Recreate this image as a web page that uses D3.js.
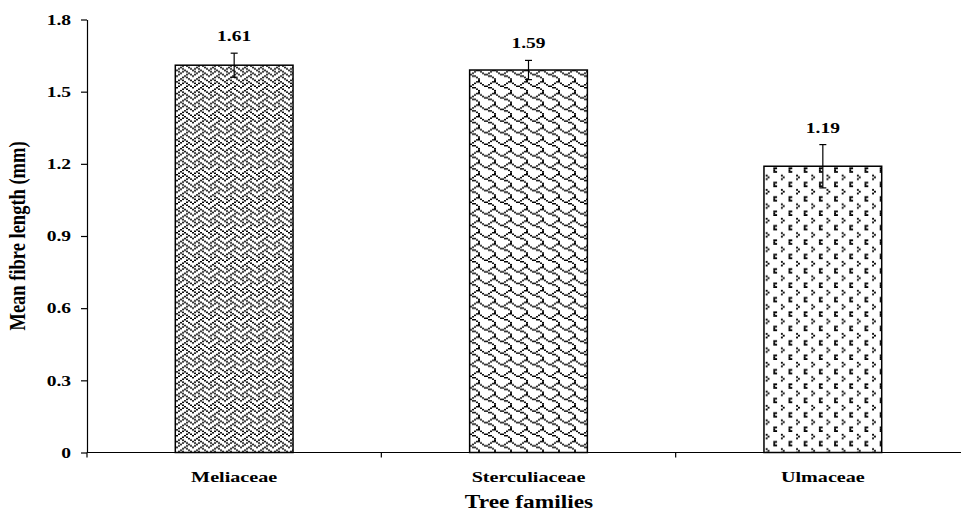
<!DOCTYPE html>
<html lang="en">
<head>
    <meta charset="UTF-8">
    <title>Mean fibre length</title>
    <style>
        body { margin: 0; background: #fff; }
        text { font-family: "Liberation Serif", "Times New Roman", serif; font-weight: bold; fill: #000; }
    </style>
</head>
<body>
<script src="https://cdn.jsdelivr.net/npm/d3@7/dist/d3.min.js"></script>
<script>
    var families = ['Meliaceae', 'Sterculiaceae', 'Ulmaceae'];
    var meanLength = [1.61, 1.59, 1.19];
    var errLength = [0.05, 0.04, 0.09];
    var yTicks = [0, 0.3, 0.6, 0.9, 1.2, 1.5, 1.8];

    var W = 961, H = 514;
    var stretch = 1.3;   // the picture is wider than tall, text too

    var svg = d3.select('body').append('svg')
            .attr('width', W)
            .attr('height', H);

    // 8x8 hatch bitmaps (weave, shingle, divot) and their pixel scale
    var hatches = [
        {rows: [0x88, 0x54, 0x22, 0x45, 0x88, 0x14, 0x22, 0x51], kx: 2, ky: 1.45},
        {rows: [0x03, 0x84, 0x48, 0x30, 0x0C, 0x02, 0x01, 0x01], kx: 2, ky: 1.45},
        {rows: [0x00, 0x10, 0x08, 0x10, 0x00, 0x81, 0x01, 0x81], kx: 1.9, ky: 1.8}
    ];
    var defs = svg.append('defs');
    hatches.forEach(function (h, p) {
        var pat = defs.append('pattern')
                .attr('id', 'hatch' + p)
                .attr('patternUnits', 'userSpaceOnUse')
                .attr('width', 8 * h.kx)
                .attr('height', 8 * h.ky);
        pat.append('rect').attr('width', 8 * h.kx).attr('height', 8 * h.ky).attr('fill', '#fff');
        h.rows.forEach(function (bits, r) {
            for (var c = 0; c < 8; c++) {
                if (bits & (0x80 >> c)) {
                    pat.append('rect')
                            .attr('x', c * h.kx).attr('y', r * h.ky)
                            .attr('width', h.kx).attr('height', h.ky)
                            .attr('fill', '#000');
                }
            }
        });
    });

    var x = d3.scaleBand()
            .domain(families)
            .range([87, 970])
            .paddingInner(0.6)
            .paddingOuter(0.3);
    var y = d3.scaleLinear()
            .domain([0, 1.8])
            .range([452.5, 19.5]);

    var data = families.map(function (f, i) {
        return {name: f, value: meanLength[i], err: errLength[i], idx: i};
    });

    // bars
    svg.selectAll('rect.bar')
            .data(data)
            .enter()
            .append('rect')
            .attr('class', 'bar')
            .attr('x', function (d) { return x(d.name); })
            .attr('y', function (d) { return y(d.value); })
            .attr('width', x.bandwidth())
            .attr('height', function (d) { return y(0) - y(d.value); })
            .attr('fill', function (d) { return 'url(#hatch' + d.idx + ')'; })
            .attr('stroke', '#000')
            .attr('stroke-width', 1.5);

    // error bars
    var eb = svg.selectAll('g.err')
            .data(data)
            .enter()
            .append('g')
            .attr('class', 'err')
            .attr('stroke', '#000')
            .attr('stroke-width', 1.2);
    var cx = function (d) { return x(d.name) + x.bandwidth() / 2; };
    eb.append('line')
            .attr('x1', cx).attr('x2', cx)
            .attr('y1', function (d) { return y(d.value + d.err); })
            .attr('y2', function (d) { return y(d.value - d.err); });
    [1, -1].forEach(function (s) {
        eb.append('line')
                .attr('x1', function (d) { return cx(d) - 3.5; })
                .attr('x2', function (d) { return cx(d) + 3.5; })
                .attr('y1', function (d) { return y(d.value + s * d.err); })
                .attr('y2', function (d) { return y(d.value + s * d.err); });
    });

    // value labels
    svg.selectAll('text.val')
            .data(data)
            .enter()
            .append('text')
            .attr('class', 'val')
            .attr('transform', function (d) {
                return 'translate(' + cx(d) + ',' + (y(d.value + d.err) - 12) + ') scale(' + stretch + ',1)';
            })
            .attr('text-anchor', 'middle')
            .style('font-size', '15px')
            .text(function (d) { return d.value.toFixed(2); });

    // y axis
    var yAxis = svg.append('g')
            .attr('transform', 'translate(87,0)')
            .call(d3.axisLeft(y).tickValues(yTicks).tickSize(6).tickSizeOuter(0)
                    .tickFormat(function (d) { return d === 0 ? '0' : d3.format('.1f')(d); }));
    yAxis.selectAll('text')
            .attr('x', -16 / stretch)
            .attr('transform', 'scale(' + stretch + ',1)')
            .style('font-size', '15px')
            .style('font-family', '"Liberation Serif", "Times New Roman", serif');
    yAxis.selectAll('line, path').attr('stroke', '#000').attr('stroke-width', 1.2);

    // x axis line with ticks between categories
    svg.append('line')
            .attr('x1', 87).attr('x2', W)
            .attr('y1', y(0)).attr('y2', y(0))
            .attr('stroke', '#000').attr('stroke-width', 1.2);
    svg.selectAll('line.xtick')
            .data(families)
            .enter()
            .append('line')
            .attr('class', 'xtick')
            .attr('x1', function (d) { return x(d) - x.step() * 0.3; })
            .attr('x2', function (d) { return x(d) - x.step() * 0.3; })
            .attr('y1', y(0)).attr('y2', y(0) + 5)
            .attr('stroke', '#000').attr('stroke-width', 1.2);

    svg.selectAll('text.cat')
            .data(families)
            .enter()
            .append('text')
            .attr('class', 'cat')
            .attr('transform', function (d) {
                return 'translate(' + (x(d) + x.bandwidth() / 2) + ',482) scale(' + stretch + ',1)';
            })
            .attr('text-anchor', 'middle')
            .style('font-size', '15.5px')
            .text(function (d) { return d; });

    // titles
    svg.append('text')
            .attr('transform', 'translate(529,508) scale(' + stretch + ',1)')
            .attr('text-anchor', 'middle')
            .style('font-size', '18px')
            .text('Tree families');
    svg.append('text')
            .attr('transform', 'translate(25,236) scale(' + stretch + ',1) rotate(-90)')
            .attr('text-anchor', 'middle')
            .style('font-size', '18.5px')
            .text('Mean fibre length (mm)');
</script>
</body>
</html>
